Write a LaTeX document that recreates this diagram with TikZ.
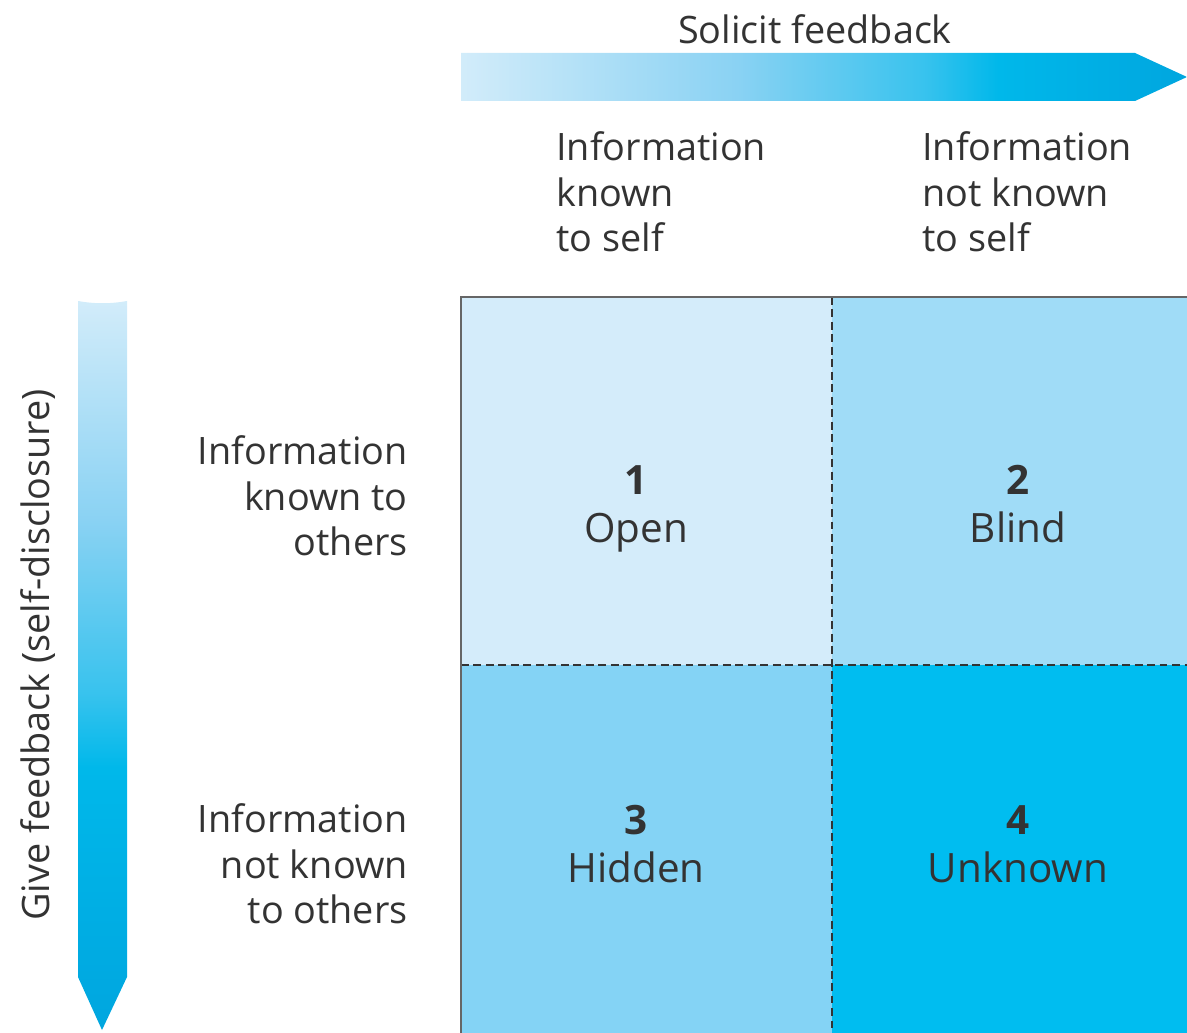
\documentclass[tikz,border=0pt]{standalone}
\usepackage{fontspec}
\setmainfont{Open Sans}
\usetikzlibrary{calc}

\definecolor{txt}{HTML}{333333}
\definecolor{qopen}{HTML}{D4ECFA}
\definecolor{qblind}{HTML}{A0DCF7}
\definecolor{qhidden}{HTML}{84D3F5}
\definecolor{qunknown}{HTML}{00BDF0}
\definecolor{framegray}{HTML}{666666}
\definecolor{gpale}{HTML}{D2ECFA}
\definecolor{gmid}{HTML}{8AD2F3}
\definecolor{gcyan}{HTML}{00B8EA}
\definecolor{gdeep}{HTML}{00A6DF}

% arrow gradients: pale blue fading into saturated cyan
\pgfdeclarehorizontalshading{solicitgrad}{100bp}{%
  color(0bp)=(gpale); color(25bp)=(gpale);
  color(44bp)=(gmid); color(57bp)=(gcyan!60!gmid);
  color(62bp)=(gcyan); color(75bp)=(gdeep);
  color(100bp)=(gdeep)}
\pgfdeclareverticalshading{givegrad}{100bp}{%
  color(0bp)=(gdeep); color(25bp)=(gdeep);
  color(43bp)=(gcyan); color(48bp)=(gcyan!60!gmid);
  color(60bp)=(gmid); color(75bp)=(gpale);
  color(100bp)=(gpale)}

\begin{document}
\begin{tikzpicture}[x=0.02cm,y=-0.02cm,
  lbl/.style={font=\fontsize{21.5}{26}\selectfont, text=txt, inner sep=0pt},
  quad/.style={font=\fontsize{23}{27.5}\selectfont, text=txt, inner sep=0pt, align=center, anchor=north},
  divider/.style={draw=txt, line width=1.4pt, dash pattern=on 4.5pt off 2.6pt},
  frame/.style={draw=framegray, line width=1.2pt}]
\useasboundingbox (0,0) rectangle (1187,1033);

% quadrant fills
\fill[qopen]    (461,297) rectangle (832,665);
\fill[qblind]   (832,297) rectangle (1187,665);
\fill[qhidden]  (461,665) rectangle (832,1033);
\fill[qunknown] (832,665) rectangle (1187,1033);

% dividers and outer frame
\coordinate (vtop) at (832,297);
\coordinate (vbot) at (832,1033);
\coordinate (hl) at (461,665);
\coordinate (hr) at (1187,665);
\draw[divider] (vtop) -- (vbot);
\draw[divider] (hl) -- (hr);
\coordinate (fbl) at (461,1033);
\coordinate (ftl) at (461,297);
\coordinate (ftr) at (1187,297);
\draw[frame] (fbl) -- (ftl) -- (ftr);

% horizontal arrow
\shade[shading=solicitgrad] (461,53) -- (1135,53) -- (1187,77) -- (1135,101) -- (461,101) -- cycle;
\node[lbl] (solicit) at (815,29) {Solicit feedback};

% vertical arrow
\shade[shading=givegrad] (78,301) .. controls (95,304) and (110,304) .. (127,301)
  -- (127,977) -- (102,1030) -- (78,977) -- cycle;
\node[lbl, rotate=90] (give) at (38,655) {Give feedback (self-disclosure)};

% column headings
\node[lbl, anchor=west, align=left] (colA) at (556,192) {Information\\known\\to self};
\node[lbl, anchor=west, align=left] (colB) at (922,192) {Information\\not known\\to self};

% row headings
\node[lbl, anchor=east, align=right] (rowA) at (408,496) {Information\\known to\\others};
\node[lbl, anchor=east, align=right] (rowB) at (408,864) {Information\\not known\\to others};

% quadrant labels
\node[quad] (open)    at (636,465) {\textbf{1}\\Open};
\node[quad] (blind)   at (1018,465) {\textbf{2}\\Blind};
\node[quad] (hidden)  at (636,805) {\textbf{3}\\Hidden};
\node[quad] (unknown) at (1018,805) {\textbf{4}\\Unknown};
\end{tikzpicture}
\end{document}
